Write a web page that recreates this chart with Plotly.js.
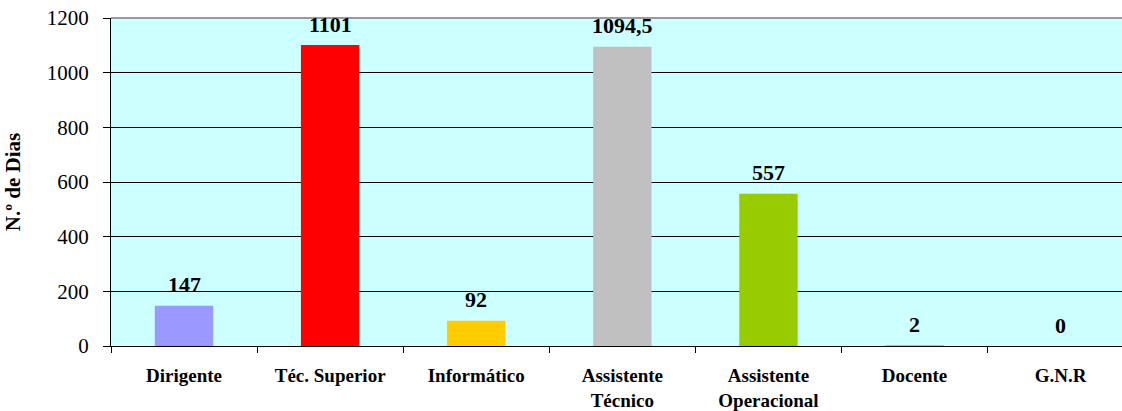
<!DOCTYPE html>
<html>
<head>
<meta charset="utf-8">
<script src="https://cdn.plot.ly/plotly-3.0.1.min.js"></script>
<style>
  html, body { margin: 0; padding: 0; background: #fff; }
  #chart { width: 1122px; height: 411px; }
</style>
</head>
<body>
<div id="chart"></div>
<script>
const categories = [
  "Dirigente",
  "Téc. Superior",
  "Informático",
  "Assistente<br>Técnico",
  "Assistente<br>Operacional",
  "Docente",
  "G.N.R",
];
const dias = [147, 1101, 92, 1094.5, 557, 2, 0];
const barColors = ["#9999FF", "#FF0000", "#FFCC00", "#C0C0C0", "#99CC00", "#FF6600", "#3366FF"];
const yTicks = [0, 200, 400, 600, 800, 1000, 1200];

const serif = "'Liberation Serif', 'Times New Roman', serif";

// value labels sit a little above each bar, like the original
const labelAnnotations = dias.map((v, i) => ({
  x: categories[i],
  y: v,
  xref: "x",
  yref: "y",
  text: "<b>" + String(v).replace(".", ",") + "</b>",
  showarrow: false,
  yanchor: "middle",
  yshift: 21,
  font: { family: serif, size: 22, color: "#000" },
}));

const trace = {
  type: "bar",
  x: categories,
  y: dias,
  marker: { color: barColors, line: { width: 0 } },
  hoverinfo: "x+y",
};

const layout = {
  width: 1122,
  height: 411,
  margin: { l: 111, r: 0, t: 18, b: 65, pad: 0 },
  paper_bgcolor: "#FFFFFF",
  plot_bgcolor: "#CCFFFF",
  bargap: 0.6,
  showlegend: false,
  font: { family: serif, size: 20, color: "#000" },
  xaxis: {
    type: "category",
    range: [-0.5, 6.42],
    showgrid: false,
    zeroline: false,
    showline: true,
    linecolor: "#000",
    linewidth: 1,
    ticks: "outside",
    tickson: "boundaries",
    ticklen: 6,
    tickcolor: "#000",
    ticklabelstandoff: 12,
    tickfont: { family: serif, size: 19, color: "#000", weight: "bold" },
  },
  yaxis: {
    range: [0, 1200],
    tickvals: yTicks,
    showgrid: true,
    gridcolor: "#000",
    gridwidth: 1,
    zeroline: false,
    showline: true,
    linecolor: "#000",
    ticks: "outside",
    ticklen: 7,
    tickcolor: "#000",
    ticklabelstandoff: 10,
    tickfont: { family: serif, size: 21, color: "#000" },
    title: {
      text: "<b>N.º de Dias</b>",
      standoff: 20,
      font: { family: serif, size: 21, color: "#000" },
    },
  },
  shapes: [
    {
      type: "line",
      xref: "paper",
      yref: "paper",
      x0: 0,
      x1: 1,
      y0: 1,
      y1: 1,
      line: { color: "#999999", width: 2 },
    },
  ],
  annotations: labelAnnotations,
};

Plotly.newPlot("chart", [trace], layout, { displayModeBar: false, staticPlot: true });
</script>
</body>
</html>
